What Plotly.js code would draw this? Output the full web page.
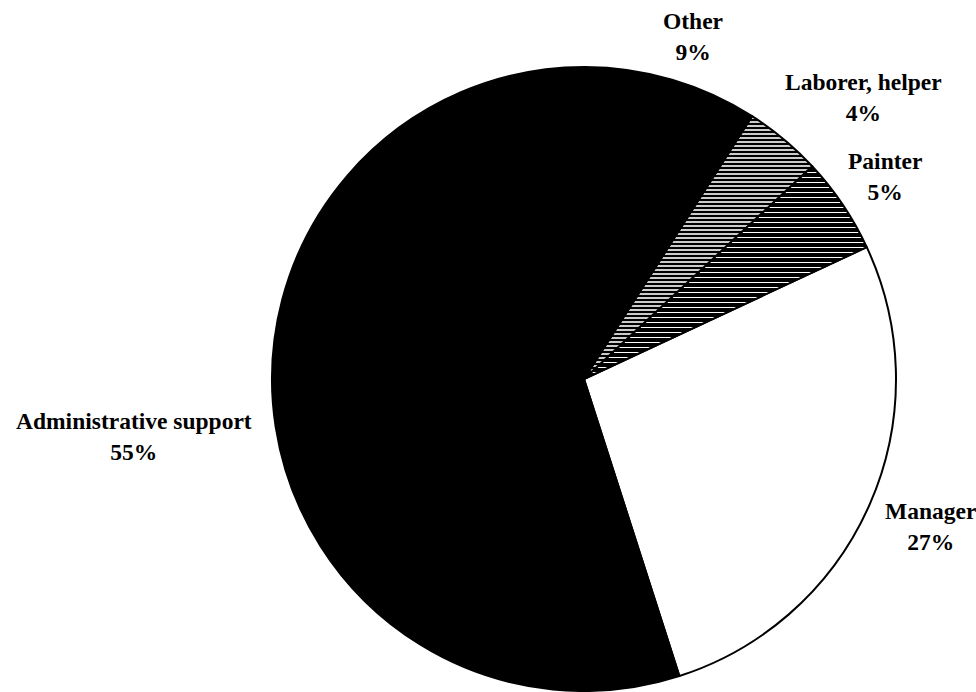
<!DOCTYPE html>
<html>
<head>
<meta charset="utf-8">
<script src="https://cdn.plot.ly/plotly-3.0.1.min.js"></script>
<style>html,body{margin:0;padding:0;background:#fff;}#chart{width:976px;height:692px;}</style>
</head>
<body>
<div id="chart"></div>
<script>
const categories = ["Manager", "Painter", "Laborer, helper", "Other", "Administrative support"];
const shares = [27, 5, 4, 9, 55];
const fills = ["#ffffff", "#1a1a1a", "#3a3a3a", "#000000", "#000000"];

const labelPos = [
  {x: 930, y: 526},
  {x: 885, y: 176},
  {x: 863, y: 97},
  {x: 693, y: 36},
  {x: 134, y: 436}
];

const W = 976, H = 692;
const cx = 584, cy = 379, r = 312;

const annotations = categories.map((c, i) => ({
  xref: 'paper', yref: 'paper',
  x: labelPos[i].x / W, y: 1 - labelPos[i].y / H,
  xanchor: 'center', yanchor: 'middle',
  text: '<b>' + c + '</b><br><b>' + shares[i] + '%</b>',
  showarrow: false,
  font: {family: 'Liberation Serif, Times New Roman, serif', size: 23.5, color: '#000'},
  align: 'center'
}));

const trace = {
  type: 'pie',
  labels: categories,
  values: shares,
  sort: false,
  direction: 'counterclockwise',
  rotation: 65,
  textinfo: 'none',
  hoverinfo: 'label+percent',
  marker: {
    colors: fills,
    line: {color: '#000', width: 2},
    pattern: {
      shape: ['', '-', '-', '', ''],
      fgcolor: ['#fff', '#ffffff', '#ffffff', '#000', '#000'],
      bgcolor: ['#fff', '#000000', '#000000', '#000', '#000'],
      size: [8, 5, 4, 8, 8],
      solidity: [0.3, 0.2, 0.4, 0.3, 0.3],
      fillmode: 'replace'
    }
  },
  domain: {x: [(cx - r) / W, (cx + r) / W], y: [(H - cy - r) / H, (H - cy + r) / H]}
};

Plotly.newPlot('chart', [trace], {
  width: W, height: H,
  margin: {l: 0, r: 0, t: 0, b: 0},
  showlegend: false,
  paper_bgcolor: '#fff',
  annotations: annotations
}, {displayModeBar: false, staticPlot: true});
</script>
</body>
</html>
